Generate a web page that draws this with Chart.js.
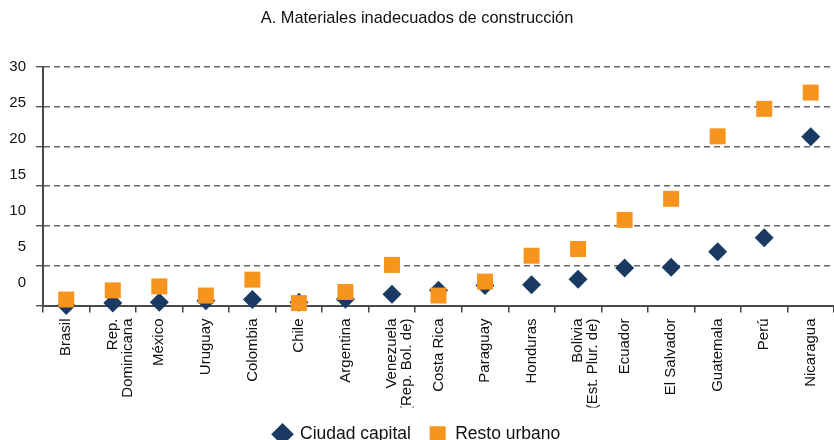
<!DOCTYPE html>
<html>
<head>
<meta charset="utf-8">
<title>A. Materiales inadecuados de construcción</title>
<script src="https://cdn.jsdelivr.net/npm/chart.js"></script>
<style>
  body { margin: 0; background: #fff; }
</style>
</head>
<body>
<canvas id="chart" width="834" height="440"></canvas>
<script>
const paises = [
  'Brasil', ['Rep.', 'Dominicana'], 'México', 'Uruguay', 'Colombia', 'Chile',
  'Argentina', ['Venezuela', '(Rep. Bol. de)'], 'Costa Rica', 'Paraguay',
  'Honduras', ['Bolivia', '(Est. Plur. de)'], 'Ecuador', 'El Salvador',
  'Guatemala', 'Perú', 'Nicaragua'
];
const ciudadCapital = [0.0, 0.3, 0.4, 0.6, 0.75, 0.4, 0.8, 1.4, 1.9, 2.5, 2.6, 3.3, 4.7, 4.8, 6.75, 8.5, 21.2];
const restoUrbano = [0.75, 1.9, 2.4, 1.25, 3.25, 0.3, 1.7, 5.1, 1.25, 3.0, 6.25, 7.1, 10.75, 13.4, 21.25, 24.7, 26.75];
const yTicks = [0, 5, 10, 15, 20, 25, 30];

Chart.defaults.font.family = '"Liberation Sans", Arial, sans-serif';
Chart.defaults.color = '#222';

const ctx = document.getElementById('chart').getContext('2d');
const chart = new Chart(ctx, {
  type: 'line',
  data: {
    labels: paises,
    datasets: [
      {
        label: 'Ciudad capital',
        data: ciudadCapital,
        showLine: false,
        pointStyle: 'rectRot',
        pointRadius: 9.5,
        pointHoverRadius: 9.5,
        pointBorderWidth: 0,
        backgroundColor: '#1b3a63',
        borderColor: '#1b3a63',
        order: 2,
        clip: false
      },
      {
        label: 'Resto urbano',
        data: restoUrbano,
        showLine: false,
        pointStyle: 'rect',
        pointRadius: 11.3,
        pointHoverRadius: 11.3,
        pointBorderWidth: 0,
        backgroundColor: '#f7941d',
        borderColor: '#f7941d',
        order: 1,
        clip: false
      }
    ]
  },
  options: {
    responsive: false,
    animation: false,
    layout: { autoPadding: false, padding: { left: 0, right: 0, top: 0, bottom: -13 } },
    plugins: {
      title: {
        display: true,
        text: 'A. Materiales inadecuados de construcción',
        font: { size: 16.4, weight: 'normal' },
        color: '#111',
        padding: { top: 9, bottom: 38 }
      },
      legend: {
        position: 'bottom',
        labels: {
          usePointStyle: true,
          boxHeight: 16,
          padding: 18,
          font: { size: 17.5 },
          color: '#111',
          sort: (a, b) => a.datasetIndex - b.datasetIndex
        }
      },
      tooltip: { enabled: false }
    },
    scales: {
      x: {
        offset: true,
        grid: { offset: true, drawOnChartArea: false, tickLength: 7, color: '#444', lineWidth: 1.5 },
        border: { color: '#4a4a4a', width: 2 },
        ticks: {
          autoSkip: false, minRotation: 90, maxRotation: 90, padding: 6,
          color: '#111', font: { size: 15, lineHeight: 1.0 }
        },
        afterFit: s => { s.height = 102; s.paddingLeft = 0; s.paddingRight = 0; }
      },
      y: {
        position: 'left',
        weight: 0,
        min: 0,
        max: 30,
        ticks: { display: false, stepSize: 5 },
        grid: { color: '#666', lineWidth: 1.4, tickLength: 7, tickColor: '#555' },
        border: { color: '#4a4a4a', width: 2, dash: [6, 4] }
      },
      yLab: {
        position: 'left',
        weight: 10,
        min: -3.2,
        max: 30,
        grid: { display: false, drawTicks: false },
        border: { display: false },
        afterBuildTicks: s => { s.ticks = yTicks.map(v => ({ value: v })); },
        afterFit: s => { s.width = 36; },
        ticks: { padding: 10, color: '#111', font: { size: 15 } }
      }
    }
  }
});
</script>
</body>
</html>
